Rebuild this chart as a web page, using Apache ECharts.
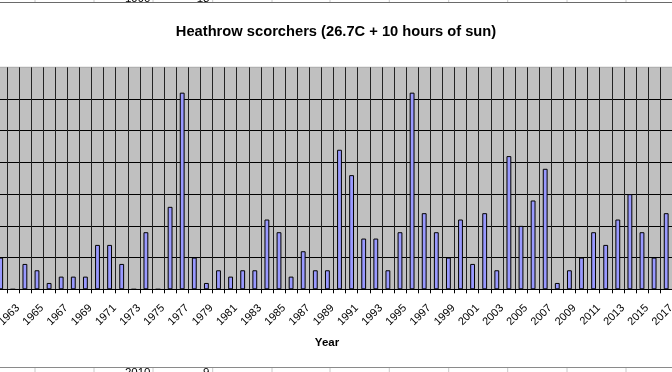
<!DOCTYPE html>
<html><head><meta charset="utf-8">
<script src="https://cdn.jsdelivr.net/npm/echarts@6/dist/echarts.min.js"></script>
<style>html,body{margin:0;padding:0;background:#fff;overflow:hidden;width:672px;height:372px;position:relative}#c{position:absolute;left:-40px;top:0;width:752px;height:372px}</style>
</head><body><div id="c"></div>
<script>
const years = ['1961','1962','1963','1964','1965','1966','1967','1968','1969','1970',
  '1971','1972','1973','1974','1975','1976','1977','1978','1979','1980',
  '1981','1982','1983','1984','1985','1986','1987','1988','1989','1990',
  '1991','1992','1993','1994','1995','1996','1997','1998','1999','2000',
  '2001','2002','2003','2004','2005','2006','2007','2008','2009','2010',
  '2011','2012','2013','2014','2015','2016','2017'];
const scorcherDays = [5,0,4,3,1,2,2,2,7,7,
  4,0,9,0,13,31,5,1,3,2,
  3,3,11,9,2,6,3,3,22,18,
  8,8,3,9,31,12,9,5,11,4,
  12,3,21,10,14,19,1,3,5,9,
  7,11,15,9,5,12,null];
const yMin = 0, yMax = 35, yStep = 5;
const titleText = 'Heathrow scorchers (26.7C + 10 hours of sun)';
const xAxisName = 'Year';
const sheetTopRow = ['1990', '18'];
const sheetBottomRow = ['2010', '9'];

const OFF = 40; // div is shifted 40px left of the page
const cellEdges = [35, 94, 153, 212.7, 272, 330, 389.3, 448.7, 507.7, 567, 626];
const kids = [];
kids.push({type:'line', shape:{x1:0,y1:2.5,x2:672,y2:2.5}, style:{stroke:'#6a6a6a',lineWidth:1}, silent:true});
kids.push({type:'line', shape:{x1:0,y1:367.5,x2:672,y2:367.5}, style:{stroke:'#8a8a8a',lineWidth:1}, silent:true});
cellEdges.forEach(x => {
  kids.push({type:'line', shape:{x1:x,y1:0,x2:x,y2:2}, style:{stroke:'#c8c8c8',lineWidth:1}, silent:true});
  kids.push({type:'line', shape:{x1:x,y1:368,x2:x,y2:372}, style:{stroke:'#c8c8c8',lineWidth:1}, silent:true});
});
const sheetFont = {fontFamily:'Liberation Sans, Arial, sans-serif', fontSize:11.5, fill:'#000'};
kids.push({type:'text', x:150.5, y:4.8, style:Object.assign({text:sheetTopRow[0], align:'right', verticalAlign:'bottom'}, sheetFont), silent:true});
kids.push({type:'text', x:209.5, y:4.8, style:Object.assign({text:sheetTopRow[1], align:'right', verticalAlign:'bottom'}, sheetFont), silent:true});
kids.push({type:'text', x:150.5, y:367, style:Object.assign({text:sheetBottomRow[0], align:'right', verticalAlign:'top'}, sheetFont), silent:true});
kids.push({type:'text', x:209.5, y:367, style:Object.assign({text:sheetBottomRow[1], align:'right', verticalAlign:'top'}, sheetFont), silent:true});

const chart = echarts.init(document.getElementById('c'), null, {renderer:'canvas'});
chart.setOption({
  animation:false,
  backgroundColor:'#fff',
  title:{text:titleText, left:'center', top:19,
    textStyle:{fontFamily:'Liberation Sans, Arial, sans-serif', fontSize:14.7, fontWeight:'bold', color:'#000'}},
  grid:{left:OFF-5.35, right:752-OFF-684.35, top:67.3, bottom:82.7, show:true, backgroundColor:'#c0c0c0', borderColor:'#a8a8a8', borderWidth:1, containLabel:false},
  xAxis:{type:'category', data:years, boundaryGap:true,
    name:xAxisName, nameLocation:'middle', nameGap:48,
    nameTextStyle:{fontFamily:'Liberation Sans, Arial, sans-serif', fontSize:11.5, fontWeight:'bold', color:'#000', padding:[0,25,0,0]},
    axisLine:{show:true, lineStyle:{color:'#000', width:1}},
    axisTick:{show:true, interval:0, length:4, lineStyle:{color:'#000'}},
    axisLabel:{interval:1, rotate:45, fontSize:11, margin:10, padding:[0,10,0,0], color:'#000', fontFamily:'Liberation Sans, Arial, sans-serif'},
    splitLine:{show:true, interval:0, lineStyle:{color:'#222', width:1}}
  },
  yAxis:{type:'value', min:yMin, max:yMax, interval:yStep,
    axisLine:{show:false}, axisTick:{show:false}, axisLabel:{show:false},
    splitLine:{show:true, showMinLine:false, showMaxLine:false, lineStyle:{color:'#000', width:1}}
  },
  series:[{type:'bar', data:scorcherDays, barWidth:'40%',
    itemStyle:{color:'#9999ff', borderColor:'#000', borderWidth:1}}],
  graphic:[{type:'group', x:OFF, y:0, silent:true, children:kids}]
});
</script></body></html>
